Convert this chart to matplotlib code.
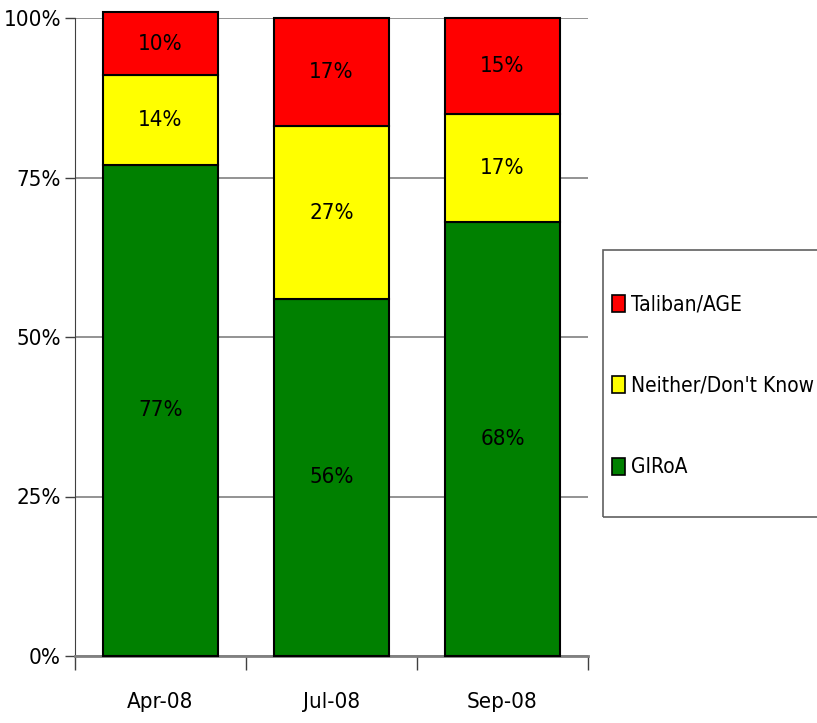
import matplotlib.pyplot as plt
from matplotlib.patches import Patch, Rectangle
from matplotlib.ticker import FixedLocator
import numpy as np

categories = ["Apr-08", "Jul-08", "Sep-08"]
giroa = [77, 56, 68]
neither = [14, 27, 17]
taliban = [10, 17, 15]

series_names = ["GIRoA", "Neither/Don't Know", "Taliban/AGE"]
colors = ["#008000", "#FFFF00", "#FF0000"]

plt.rcParams['font.family'] = ['DejaVu Sans']
plt.rcParams['font.stretch'] = 'condensed'

fig = plt.figure(figsize=(8.17, 7.23), dpi=100)
ax = fig.add_axes([75 / 817, 1 - 656 / 723, (588 - 75) / 817, (656 - 18) / 723])

x = np.arange(len(categories))
bottom = np.zeros(len(categories))
for vals, name, col in zip([giroa, neither, taliban], series_names, colors):
    ax.bar(x, vals, 0.667, bottom=bottom, color=col, edgecolor='black',
           linewidth=1.5, label=name, clip_on=False, zorder=3)
    for xi, b, v in zip(x, bottom, vals):
        ax.text(xi, b + v / 2, f"{v}%", ha='center', va='center', fontsize=16, zorder=4)
    bottom += vals

ax.set_xlim(-0.5, 2.5)
ax.set_ylim(0, 100)
ax.set_yticks([0, 25, 50, 75, 100])
ax.set_yticklabels([f"{t}%" for t in [0, 25, 50, 75, 100]], fontsize=16)
ax.yaxis.grid(True, color='#808080', linewidth=1.2, zorder=0)
ax.set_axisbelow(True)

ax.set_xticks(x)
ax.set_xticklabels(categories, fontsize=16)
ax.tick_params(axis='x', which='major', length=0, pad=26)
ax.xaxis.set_minor_locator(FixedLocator([-0.5, 0.5, 1.5, 2.5]))
ax.tick_params(axis='x', which='minor', length=10, width=1, color='#404040')
ax.tick_params(axis='y', length=7, width=1, color='#404040', pad=3)

for s in ['top', 'right']:
    ax.spines[s].set_visible(False)
ax.spines['left'].set_color('#404040')
ax.spines['bottom'].set_color('#808080')
ax.spines['bottom'].set_linewidth(2)

# legend box
fig.patches.append(Rectangle((603 / 817, 1 - 517 / 723), 0.3, (517 - 250) / 723,
                             transform=fig.transFigure, fill=False,
                             edgecolor='#606060', linewidth=1.2))
handles = [Patch(facecolor=c, edgecolor='black', linewidth=1.2) for c in colors[::-1]]
fig.legend(handles, series_names[::-1], loc='center left',
           bbox_to_anchor=(612 / 817, 1 - 386 / 723), frameon=False,
           fontsize=15, labelspacing=2.95, handlelength=0.6, handleheight=0.9,
           handletextpad=0.3, borderpad=0, borderaxespad=0)

fig.savefig("out.png", dpi=100)
